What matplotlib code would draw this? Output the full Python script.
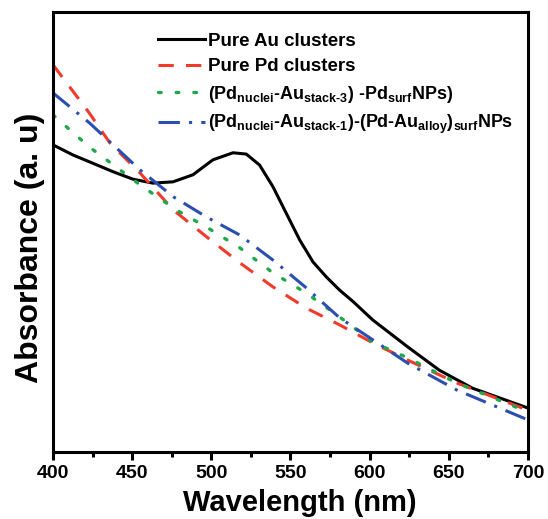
import matplotlib
matplotlib.use("Agg")
import matplotlib.pyplot as plt

plt.rcParams['font.family'] = ['Liberation Sans', 'DejaVu Sans']
plt.rcParams['font.weight'] = 'bold'
plt.rcParams['mathtext.fontset'] = 'custom'
plt.rcParams['mathtext.rm'] = 'Liberation Sans:bold'
plt.rcParams['mathtext.bf'] = 'Liberation Sans:bold'
plt.rcParams['mathtext.it'] = 'Liberation Sans:bold'

# Data (arbitrary absorbance units)
wl_au = [400, 412.6, 425.3, 437.9, 450.5, 463.2, 475.8, 488.4, 501, 513.7, 522.1, 530.5, 538.9,
         547.4, 555.8, 564.2, 572.6, 581, 589.5, 602, 624, 644, 665, 700]
abs_au = [0.698, 0.675, 0.656, 0.637, 0.620, 0.611, 0.614, 0.630, 0.664, 0.680, 0.677, 0.652, 0.603,
          0.542, 0.482, 0.432, 0.398, 0.368, 0.342, 0.300, 0.239, 0.186, 0.145, 0.100]

wl_pd = [400, 423, 436, 455, 476, 497, 518, 539, 560, 581, 602, 624, 655, 700]
abs_pd = [0.880, 0.770, 0.702, 0.634, 0.550, 0.489, 0.430, 0.375, 0.327, 0.289, 0.248, 0.209, 0.157, 0.095]

wl_s3 = [400, 423, 455, 478, 497, 518, 539, 560, 581, 602, 624, 655, 700]
abs_s3 = [0.766, 0.693, 0.607, 0.550, 0.511, 0.464, 0.407, 0.361, 0.307, 0.250, 0.214, 0.157, 0.091]

wl_s1 = [400, 423, 455, 476, 497, 518, 539, 560, 581, 602, 624, 655, 700]
abs_s1 = [0.816, 0.748, 0.641, 0.580, 0.534, 0.493, 0.436, 0.373, 0.305, 0.255, 0.202, 0.141, 0.073]

labels = [
    'Pure Au clusters',
    'Pure Pd clusters',
    r'(Pd$_{\mathbf{nuclei}}$-Au$_{\mathbf{stack\text{-}3}}$) -Pd$_{\mathbf{surf}}$NPs)',
    r'(Pd$_{\mathbf{nuclei}}$-Au$_{\mathbf{stack\text{-}1}}$)-(Pd-Au$_{\mathbf{alloy}}$)$_{\mathbf{surf}}$NPs',
]

fig = plt.figure(figsize=(5.48, 5.19), dpi=100)
ax = fig.add_axes([0.0967, 0.129, 0.8668, 0.848])

ax.plot(wl_au, abs_au, color='black', lw=2.2, label=labels[0])
ax.plot(wl_pd, abs_pd, color='#f03a2a', lw=2.2, ls=(0, (5, 4)), label=labels[1])
ax.plot(wl_s3, abs_s3, color='#1fa84a', lw=2.4, ls=(0, (0.8, 4.5)), dash_capstyle='round', label=labels[2])
ax.plot(wl_s1, abs_s1, color='#2a4fb0', lw=2.2, ls=(0, (7, 3, 1, 3)), label=labels[3])

ax.set_xlim(400, 700)
ax.set_ylim(0, 1)
ax.set_xticks([400, 450, 500, 550, 600, 650, 700])
ax.set_xticks([425, 475, 525, 575, 625, 675], minor=True)
ax.set_yticks([])
ax.tick_params(axis='x', which='major', direction='out', length=6, width=2.2, labelsize=14, pad=3)
ax.tick_params(axis='x', which='minor', direction='out', length=3.5, width=2.2)
for lab in ax.get_xticklabels():
    lab.set_fontweight('bold')
for s in ax.spines.values():
    s.set_linewidth(2.2)

ax.set_xlabel('Wavelength (nm)', fontsize=21, fontweight='bold')
ax.xaxis.set_label_coords(0.52, -0.085)
ax.set_ylabel('Absorbance (a. u)', fontsize=23, fontweight='bold')
ax.yaxis.set_label_coords(-0.017, 0.464)

leg = ax.legend(loc='upper left', bbox_to_anchor=(0.205, 0.97), frameon=False,
                prop={'weight': 'bold', 'size': 13.5}, handlelength=2.5,
                handletextpad=0.2, labelspacing=0.45, borderaxespad=0)
for t in leg.get_texts()[2:]:
    t.set_fontsize(12.9)

fig.savefig('out.png', dpi=100)
